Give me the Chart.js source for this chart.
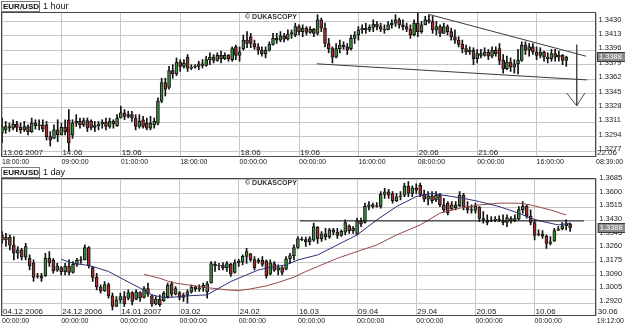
<!DOCTYPE html>
<html><head><meta charset="utf-8">
<script src="https://cdn.jsdelivr.net/npm/chart.js@4.4.0/dist/chart.umd.min.js"></script>
<style>
html,body{margin:0;padding:0;background:#fff;width:625px;height:330px;overflow:hidden}
#c1{position:absolute;left:0;top:0}
#c2{position:absolute;left:0;top:166px}
</style></head><body>
<canvas id="c1" width="625" height="166"></canvas>
<canvas id="c2" width="625" height="164"></canvas>
<script>
// ---------- 1 hour panel data ----------
const symbol = 'EUR/USD';
const periodTop = '1 hour';
const periodBottom = '1 day';
const watermark = '\u00A9 DUKASCOPY';

const hOpen = [1.3298,1.3302,1.3306,1.3304,1.3309,1.3305,1.3302,1.3306,1.3300,1.3310,
1.3307,1.3308,1.3308,1.3294,1.3292,1.3302,1.3296,1.3305,1.3314,1.3296,
1.3310,1.3312,1.3308,1.3313,1.3312,1.3305,1.3307,1.3309,1.3311,1.3306,
1.3312,1.3307,1.3316,1.3322,1.3318,1.3320,1.3316,1.3306,1.3314,1.3310,
1.3304,1.3308,1.3310,1.3336,1.3358,1.3352,1.3372,1.3368,1.3382,1.3377,
1.3388,1.3375,1.3376,1.3377,1.3380,1.3378,1.3385,1.3388,1.3384,1.3390,
1.3386,1.3390,1.3385,1.3400,1.3390,1.3398,1.3408,1.3412,1.3404,1.3400,
1.3396,1.3392,1.3396,1.3403,1.3410,1.3408,1.3413,1.3409,1.3415,1.3414,
1.3424,1.3418,1.3422,1.3417,1.3421,1.3416,1.3432,1.3422,1.3404,1.3398,
1.3388,1.3398,1.3402,1.3400,1.3398,1.3410,1.3414,1.3420,1.3422,1.3420,
1.3423,1.3427,1.3424,1.3421,1.3420,1.3426,1.3428,1.3432,1.3426,1.3424,
1.3421,1.3414,1.3428,1.3418,1.3426,1.3432,1.3430,1.3420,1.3424,1.3416,
1.3424,1.3418,1.3412,1.3408,1.3403,1.3398,1.3394,1.3396,1.3386,1.3392,
1.3390,1.3394,1.3389,1.3396,1.3398,1.3384,1.3374,1.3382,1.3376,1.3380,
1.3384,1.3402,1.3396,1.3400,1.3394,1.3390,1.3394,1.3388,1.3386,1.3392,
1.3388,1.3390,1.3384];
const hHigh = [1.3316,1.3312,1.3310,1.3314,1.3312,1.3310,1.3312,1.3308,1.3316,1.3314,
1.3314,1.3314,1.3312,1.3300,1.3308,1.3314,1.3310,1.3314,1.3326,1.3314,
1.3320,1.3316,1.3316,1.3316,1.3314,1.3312,1.3312,1.3314,1.3316,1.3316,
1.3314,1.3320,1.3330,1.3326,1.3324,1.3324,1.3320,1.3320,1.3318,1.3316,
1.3318,1.3316,1.3340,1.3363,1.3363,1.3377,1.3379,1.3387,1.3385,1.3385,
1.3391,1.3379,1.3379,1.3383,1.3385,1.3389,1.3393,1.3391,1.3393,1.3395,
1.3393,1.3391,1.3400,1.3402,1.3400,1.3414,1.3418,1.3416,1.3408,1.3404,
1.3400,1.3400,1.3406,1.3416,1.3416,1.3418,1.3416,1.3420,1.3420,1.3428,
1.3426,1.3426,1.3424,1.3424,1.3422,1.3438,1.3434,1.3428,1.3410,1.3400,
1.3404,1.3408,1.3406,1.3404,1.3414,1.3418,1.3424,1.3426,1.3428,1.3426,
1.3432,1.3430,1.3428,1.3426,1.3430,1.3432,1.3438,1.3434,1.3432,1.3428,
1.3426,1.3432,1.3440,1.3430,1.3436,1.3438,1.3436,1.3430,1.3426,1.3428,
1.3426,1.3422,1.3420,1.3412,1.3408,1.3402,1.3400,1.3399,1.3397,1.3397,
1.3399,1.3397,1.3400,1.3400,1.3404,1.3391,1.3389,1.3387,1.3385,1.3397,
1.3406,1.3406,1.3404,1.3404,1.3400,1.3399,1.3395,1.3393,1.3397,1.3397,
1.3395,1.3391,1.3389];
const hLow = [1.3287,1.3298,1.3300,1.3302,1.3300,1.3298,1.3300,1.3296,1.3299,1.3303,
1.3302,1.3300,1.3290,1.3283,1.3292,1.3288,1.3296,1.3296,1.3277,1.3292,
1.3306,1.3304,1.3306,1.3300,1.3302,1.3300,1.3302,1.3304,1.3302,1.3304,
1.3304,1.3306,1.3316,1.3314,1.3316,1.3312,1.3302,1.3304,1.3304,1.3302,
1.3302,1.3304,1.3308,1.3334,1.3342,1.3350,1.3363,1.3366,1.3371,1.3375,
1.3371,1.3373,1.3375,1.3373,1.3375,1.3377,1.3379,1.3381,1.3383,1.3381,
1.3385,1.3383,1.3383,1.3385,1.3383,1.3396,1.3399,1.3399,1.3397,1.3391,
1.3389,1.3387,1.3395,1.3402,1.3404,1.3406,1.3406,1.3408,1.3410,1.3412,
1.3414,1.3412,1.3414,1.3416,1.3412,1.3414,1.3418,1.3400,1.3393,1.3381,
1.3387,1.3393,1.3397,1.3391,1.3396,1.3404,1.3408,1.3416,1.3416,1.3418,
1.3418,1.3420,1.3418,1.3416,1.3420,1.3422,1.3424,1.3422,1.3420,1.3418,
1.3410,1.3413,1.3412,1.3416,1.3426,1.3428,1.3416,1.3414,1.3412,1.3416,
1.3414,1.3408,1.3404,1.3400,1.3393,1.3391,1.3391,1.3379,1.3381,1.3387,
1.3389,1.3385,1.3387,1.3389,1.3379,1.3369,1.3373,1.3371,1.3369,1.3368,
1.3383,1.3391,1.3389,1.3391,1.3385,1.3387,1.3383,1.3381,1.3383,1.3383,
1.3383,1.3379,1.3377];
const hClose = [1.3306,1.3306,1.3304,1.3309,1.3305,1.3302,1.3306,1.3300,1.3310,1.3307,
1.3308,1.3303,1.3294,1.3290,1.3302,1.3296,1.3305,1.3300,1.3287,1.3310,
1.3312,1.3308,1.3313,1.3304,1.3305,1.3307,1.3309,1.3311,1.3306,1.3312,
1.3309,1.3316,1.3322,1.3318,1.3320,1.3316,1.3306,1.3312,1.3306,1.3304,
1.3310,1.3312,1.3336,1.3358,1.3350,1.3372,1.3368,1.3382,1.3377,1.3381,
1.3375,1.3376,1.3377,1.3380,1.3378,1.3385,1.3388,1.3384,1.3390,1.3386,
1.3390,1.3386,1.3398,1.3390,1.3394,1.3408,1.3404,1.3404,1.3400,1.3396,
1.3392,1.3396,1.3403,1.3410,1.3408,1.3413,1.3409,1.3415,1.3417,1.3424,
1.3418,1.3422,1.3417,1.3421,1.3416,1.3432,1.3422,1.3404,1.3398,1.3388,
1.3398,1.3402,1.3400,1.3396,1.3410,1.3414,1.3420,1.3422,1.3420,1.3423,
1.3427,1.3424,1.3421,1.3420,1.3426,1.3428,1.3432,1.3426,1.3424,1.3421,
1.3414,1.3428,1.3418,1.3426,1.3432,1.3430,1.3420,1.3424,1.3416,1.3424,
1.3418,1.3412,1.3408,1.3403,1.3398,1.3394,1.3396,1.3386,1.3392,1.3390,
1.3394,1.3389,1.3396,1.3392,1.3384,1.3374,1.3382,1.3376,1.3380,1.3384,
1.3402,1.3396,1.3400,1.3394,1.3390,1.3394,1.3388,1.3386,1.3392,1.3388,
1.3390,1.3384,1.3388];

const yTicksTop = [1.3277,1.3294,1.3311,1.3328,1.3345,1.3362,1.3379,1.3396,1.3413,1.3430];
const xTicksTop = [0,16,32,48,64,80,96,112,128,144,160];
const timeLabelsTop = ['18:00:00','09:00:00','01:00:00','18:00:00','00:00:00','00:00:00','16:00:00','08:00:00','00:00:00','16:00:00','08:39:00'];
const dateTicksTop = [0,16,32,64,80,112,128,160];
const dateLabelsTop = ['13.06 2007','14.06','15.06','18.06','19.06','20.06','21.06','22.06'];

// drawn trend lines / arrow (candle index, price)
const upperTrendX = [115.3,157.3], upperTrendY = [1.3438,1.3389];
const lowerTrendX = [84.8,157.6],  lowerTrendY = [1.3380,1.3361];
const arrowShaftX = [154.8,154.8], arrowShaftY = [1.34025,1.33305];
const arrowHeadX = [152.1,154.8,157.0], arrowHeadY = [1.33455,1.33305,1.33455];

// ---------- 1 day panel data ----------
const dOpen = [1.3340,1.3312,1.3330,1.3280,1.3230,1.3250,1.3205,1.3200,1.3170,1.3085,
1.3090,1.3090,1.3200,1.3185,1.3125,1.3140,1.3115,1.3150,1.3110,1.3160,
1.3185,1.3190,1.3265,1.3140,1.3080,1.3020,1.2995,1.3035,1.2965,1.2900,
1.2940,1.2960,1.2950,1.2985,1.2945,1.2985,1.2955,1.3010,1.2965,1.2915,
1.2945,1.2935,1.2960,1.3040,1.2975,1.2985,1.2955,1.2970,1.2990,1.3020,
1.3010,1.3015,1.2990,1.3045,1.3160,1.3150,1.3155,1.3140,1.3160,1.3110,
1.3170,1.3175,1.3210,1.3225,1.3190,1.3175,1.3185,1.3180,1.3100,1.3165,
1.3125,1.3140,1.3130,1.3195,1.3215,1.3265,1.3318,1.3314,1.3300,1.3310,
1.3390,1.3320,1.3350,1.3330,1.3375,1.3360,1.3340,1.3360,1.3400,1.3370,
1.3350,1.3430,1.3420,1.3520,1.3530,1.3520,1.3520,1.3595,1.3610,1.3600,
1.3555,1.3580,1.3590,1.3645,1.3600,1.3635,1.3650,1.3595,1.3565,1.3585,
1.3560,1.3590,1.3530,1.3540,1.3505,1.3530,1.3525,1.3590,1.3515,1.3500,
1.3495,1.3515,1.3445,1.3435,1.3430,1.3435,1.3440,1.3435,1.3420,1.3445,
1.3430,1.3440,1.3500,1.3520,1.3460,1.3420,1.3345,1.3350,1.3335,1.3290,
1.3305,1.3372,1.3380,1.3400,1.3410];
const dHigh = [1.3364,1.3353,1.3343,1.3333,1.3271,1.3260,1.3291,1.3219,1.3188,1.3105,
1.3105,1.3229,1.3240,1.3198,1.3167,1.3147,1.3167,1.3188,1.3178,1.3198,
1.3209,1.3281,1.3271,1.3147,1.3105,1.3033,1.3054,1.3044,1.2982,1.2961,
1.2982,1.2992,1.3002,1.2992,1.3002,1.2992,1.3023,1.3044,1.2971,1.2961,
1.2971,1.2992,1.3044,1.3054,1.3023,1.2992,1.2982,1.3002,1.3033,1.3027,
1.3033,1.3044,1.3054,1.3178,1.3178,1.3167,1.3171,1.3178,1.3167,1.3188,
1.3192,1.3219,1.3260,1.3229,1.3209,1.3198,1.3209,1.3188,1.3188,1.3178,
1.3157,1.3147,1.3209,1.3229,1.3281,1.3333,1.3329,1.3329,1.3333,1.3416,
1.3395,1.3364,1.3384,1.3384,1.3384,1.3384,1.3374,1.3436,1.3405,1.3395,
1.3447,1.3447,1.3540,1.3550,1.3540,1.3544,1.3612,1.3632,1.3626,1.3612,
1.3601,1.3612,1.3664,1.3674,1.3647,1.3660,1.3664,1.3622,1.3612,1.3612,
1.3612,1.3601,1.3570,1.3550,1.3550,1.3550,1.3612,1.3601,1.3550,1.3529,
1.3540,1.3519,1.3488,1.3467,1.3457,1.3457,1.3461,1.3467,1.3467,1.3457,
1.3467,1.3519,1.3550,1.3529,1.3498,1.3436,1.3374,1.3370,1.3343,1.3333,
1.3384,1.3395,1.3420,1.3436,1.3416];
const dLow = [1.3291,1.3271,1.3250,1.3188,1.3198,1.3188,1.3188,1.3126,1.3054,1.3074,
1.3054,1.3085,1.3147,1.3105,1.3116,1.3095,1.3095,1.3095,1.3105,1.3147,
1.3167,1.3188,1.3136,1.3054,1.3002,1.2982,1.2992,1.2950,1.2878,1.2899,
1.2920,1.2899,1.2940,1.2909,1.2940,1.2930,1.2950,1.2961,1.2899,1.2909,
1.2899,1.2930,1.2950,1.2961,1.2971,1.2940,1.2930,1.2920,1.2982,1.2992,
1.2992,1.2992,1.2950,1.3044,1.3116,1.3126,1.3126,1.3116,1.3085,1.3105,
1.3147,1.3157,1.3167,1.3178,1.3126,1.3167,1.3147,1.3074,1.3095,1.3116,
1.3095,1.3095,1.3126,1.3167,1.3188,1.3260,1.3308,1.3271,1.3281,1.3302,
1.3291,1.3302,1.3312,1.3322,1.3343,1.3322,1.3333,1.3343,1.3353,1.3353,
1.3343,1.3395,1.3416,1.3498,1.3509,1.3515,1.3509,1.3570,1.3570,1.3540,
1.3550,1.3560,1.3581,1.3581,1.3581,1.3601,1.3581,1.3550,1.3529,1.3540,
1.3550,1.3519,1.3488,1.3467,1.3498,1.3498,1.3519,1.3498,1.3478,1.3478,
1.3478,1.3426,1.3416,1.3405,1.3426,1.3426,1.3426,1.3405,1.3395,1.3416,
1.3426,1.3436,1.3478,1.3447,1.3405,1.3312,1.3337,1.3322,1.3260,1.3281,
1.3302,1.3370,1.3374,1.3374,1.3364];
const dClose = [1.3310,1.3330,1.3280,1.3230,1.3250,1.3205,1.3270,1.3150,1.3080,1.3090,
1.3075,1.3200,1.3170,1.3120,1.3150,1.3115,1.3150,1.3110,1.3160,1.3185,
1.3190,1.3265,1.3150,1.3080,1.3020,1.2995,1.3035,1.2965,1.2900,1.2940,
1.2960,1.2915,1.2985,1.2930,1.2990,1.2950,1.3010,1.2975,1.2915,1.2945,
1.2910,1.2980,1.3030,1.2975,1.3010,1.2955,1.2970,1.2990,1.3020,1.3010,
1.3015,1.3030,1.3040,1.3165,1.3150,1.3155,1.3140,1.3165,1.3100,1.3170,
1.3180,1.3210,1.3240,1.3190,1.3140,1.3185,1.3160,1.3090,1.3170,1.3125,
1.3140,1.3110,1.3195,1.3215,1.3265,1.3320,1.3314,1.3300,1.3320,1.3395,
1.3320,1.3350,1.3330,1.3375,1.3360,1.3340,1.3365,1.3420,1.3370,1.3385,
1.3430,1.3410,1.3520,1.3530,1.3520,1.3525,1.3595,1.3610,1.3590,1.3555,
1.3580,1.3585,1.3645,1.3600,1.3635,1.3620,1.3595,1.3565,1.3585,1.3555,
1.3590,1.3530,1.3500,1.3480,1.3530,1.3510,1.3590,1.3515,1.3500,1.3495,
1.3520,1.3445,1.3435,1.3420,1.3435,1.3440,1.3435,1.3420,1.3450,1.3430,
1.3445,1.3500,1.3520,1.3460,1.3420,1.3340,1.3350,1.3335,1.3290,1.3300,
1.3370,1.3380,1.3400,1.3410,1.3388];

const maBlueX = [15,18,21,23,27,31,35,38,41,43,47,52,55,58,62,65,68,72,75,80,85,90,95,100,105,109,114,117,121,126,131,134,137,141,144];
const maBlueY = [1.3192,1.3167,1.3157,1.3147,1.3116,1.3064,1.3013,1.2971,1.2954,1.2956,1.2965,1.2971,1.3013,1.3054,1.3095,1.3126,1.3142,1.3157,1.3188,1.3219,1.3281,1.3343,1.3436,1.3519,1.3581,1.3601,1.3581,1.3570,1.3550,1.3519,1.3478,1.3447,1.3426,1.3405,1.3416];
const maRedX = [36,40,43,47,50,53,57,60,63,67,70,74,77,80,85,90,95,100,106,111,116,121,126,131,134,139,143];
const maRedY = [1.3099,1.3074,1.3048,1.3033,1.3023,1.3013,1.3002,1.2998,1.3008,1.3027,1.3048,1.3081,1.3116,1.3147,1.3198,1.3240,1.3281,1.3343,1.3405,1.3478,1.3509,1.3529,1.3540,1.3540,1.3529,1.3498,1.3467];
const levelX = [75.5,147.5], levelY = [1.3430,1.3430];

const yTicksBottom = [1.2920,1.3005,1.3090,1.3175,1.3260,1.3345,1.3430,1.3515,1.3600,1.3685];
const xTicksBottom = [0,15,30,45,60,75,90,105,120,135,150.75];
const timeLabelsBottom = ['00:00:00','00:00:00','00:00:00','00:00:00','00:00:00','00:00:00','00:00:00','00:00:00','00:00:00','00:00:00','19:12:00'];
const dateLabelsBottom = ['04.12 2006','24.12 2006','14.01 2007','03.02','24.02','16.03','09.04','29.04','20.05','10.06','30.06'];

// ---------- rendering ----------
Chart.defaults.font.family = '"Liberation Sans", Arial, sans-serif';
Chart.defaults.color = '#1a1a1a';

const UP = '#3d8a3d', DOWN = '#9a3030';
function pts(xs, ys){ return xs.map((x,i)=>({x:x, y:ys[i]})); }
function candleSets(O,H,L,C){
  return [
    {type:'bar', data:O.map((o,i)=>({x:i, y:[o, C[i]]})),
     backgroundColor:O.map((o,i)=> C[i]>=o ? UP : DOWN),
     borderColor:'#111', borderWidth:1, borderSkipped:false,
     barThickness:3, grouped:false, order:1},
    {type:'bar', data:O.map((o,i)=>({x:i, y:[L[i], H[i]]})),
     backgroundColor:'#111', borderWidth:0, barThickness:1, grouped:false, order:2}
  ];
}
function lineSet(data, color){
  return {type:'line', data:data, borderColor:color, borderWidth:1, pointRadius:0,
          fill:false, tension:0, order:0};
}

const overlay = {
  id:'overlay',
  afterDraw(chart, args, o){
    const ctx = chart.ctx, a = chart.chartArea, xs = chart.scales.x, ys = chart.scales.y;
    ctx.save();
    // frame
    ctx.strokeStyle = '#484848'; ctx.lineWidth = 1;
    ctx.strokeRect(Math.floor(a.left)-0.5, Math.floor(a.top)-0.5,
                   Math.floor(a.right)-Math.floor(a.left), Math.floor(a.bottom)-Math.floor(a.top));
    // title
    ctx.fillStyle = '#fff'; ctx.fillRect(1.5,1.5,38,10);
    ctx.strokeStyle = '#7a7a7a'; ctx.strokeRect(1.5,1.5,38,10);
    ctx.fillStyle = '#111'; ctx.textBaseline = 'middle'; ctx.textAlign = 'left';
    ctx.font = 'bold 8px "Liberation Sans"'; ctx.fillText(symbol, 3, 7);
    ctx.font = '9px "Liberation Sans"'; ctx.fillText(o.period, 43, 7);
    // watermark
    ctx.font = 'bold 7px "Liberation Sans"'; ctx.fillStyle = '#333';
    ctx.fillText(watermark, 245, a.top + 4);
    // date labels inside plot
    ctx.font = '8px "Liberation Sans"'; ctx.fillStyle = '#1a1a1a'; ctx.textBaseline = 'alphabetic';
    o.dateTicks.forEach((v,i)=>{ ctx.fillText(o.dateLabels[i], xs.getPixelForValue(v)+1, a.bottom-2); });
    // last price box
    const py = ys.getPixelForValue(o.last);
    ctx.fillStyle = '#8a8a8a'; ctx.fillRect(a.right+1, Math.round(py)-4.5, 30, 9);
    ctx.strokeStyle = '#3a3a3a'; ctx.strokeRect(a.right+1.5, Math.round(py)-4.5, 30, 9);
    ctx.fillStyle = '#fff'; ctx.font = '7.5px "Liberation Sans"'; ctx.textBaseline = 'middle';
    ctx.fillText(o.last.toFixed(4), a.right+3, Math.round(py));
    ctx.restore();
  }
};

function makeChart(id, datasets, cfg){
  return new Chart(document.getElementById(id), {
    type:'bar',
    data:{datasets:datasets},
    plugins:[overlay],
    options:{
      responsive:false, animation:false, devicePixelRatio:1, events:[],
      layout:{padding:{top:13,left:2,right:0,bottom:0}, autoPadding:false},
      plugins:{legend:{display:false}, tooltip:{enabled:false},
        overlay:{period:cfg.period, dateTicks:cfg.dateTicks, dateLabels:cfg.dateLabels, last:cfg.last}},
      scales:{
        x:{type:'linear', min:0, max:cfg.xMax, offset:false,
           grid:{color:'#c6c6c6', drawTicks:false, offset:false}, border:{display:false},
           afterBuildTicks:s=>{ s.ticks = cfg.xTicks.map(v=>({value:v})); },
           afterFit:s=>{ s.height = cfg.xAxisH; },
           ticks:{autoSkip:false, maxRotation:0, minRotation:0, align:'start', padding:1,
                  font:{size:7}, color:'#1a1a1a', callback:(v,i)=>cfg.timeLabels[i]}},
        y:{type:'linear', position:'right', min:cfg.yMin, max:cfg.yMax, beginAtZero:false,
           grid:{color:'#c6c6c6', drawTicks:false}, border:{display:false},
           afterBuildTicks:s=>{ s.ticks = cfg.yTicks.map(v=>({value:v})); },
           afterFit:s=>{ s.width = cfg.yAxisW; },
           ticks:{padding:2.5, labelOffset:-2, font:{size:7.5}, color:'#1a1a1a',
                  callback:v=>Number(v).toFixed(4)}}
      }
    }
  });
}

makeChart('c1', [
  lineSet(pts(upperTrendX, upperTrendY), '#3a3a3a'),
  lineSet(pts(lowerTrendX, lowerTrendY), '#3a3a3a'),
  lineSet(pts(arrowShaftX, arrowShaftY), '#4a4a4a'),
  lineSet(pts(arrowHeadX, arrowHeadY), '#4a4a4a'),
  ...candleSets(hOpen, hHigh, hLow, hClose)
], {period:periodTop, xMax:160, xTicks:xTicksTop, timeLabels:timeLabelsTop,
    dateTicks:dateTicksTop, dateLabels:dateLabelsTop, last:hClose[hClose.length-1],
    yMin:1.3270, yMax:1.3440, yTicks:yTicksTop, xAxisH:9, yAxisW:29});

makeChart('c2', [
  lineSet(pts(levelX, levelY), '#111'),
  lineSet(pts(maBlueX, maBlueY), '#2f2f72'),
  lineSet(pts(maRedX, maRedY), '#944848'),
  ...candleSets(dOpen, dHigh, dLow, dClose)
], {period:periodBottom, xMax:150.75, xTicks:xTicksBottom, timeLabels:timeLabelsBottom,
    dateTicks:xTicksBottom, dateLabels:dateLabelsBottom, last:dClose[dClose.length-1],
    yMin:1.2840, yMax:1.3690, yTicks:yTicksBottom, xAxisH:14, yAxisW:26});
</script></body></html>
